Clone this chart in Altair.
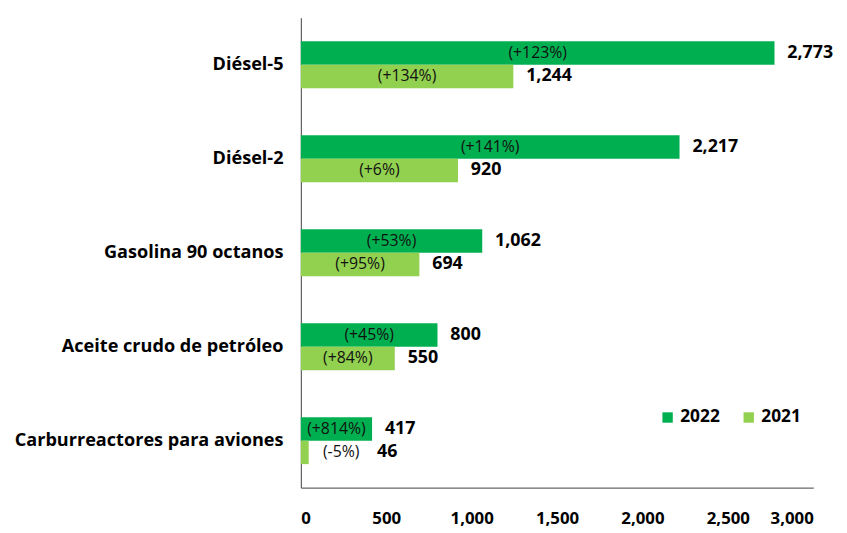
import altair as alt
import pandas as pd

categories = ["Diésel-5", "Diésel-2", "Gasolina 90 octanos",
              "Aceite crudo de petróleo", "Carburreactores para aviones"]
years = ["2022", "2021"]
values_2022 = [2773, 2217, 1062, 800, 417]
values_2021 = [1244, 920, 694, 550, 46]
pct_2022 = ["(+123%)", "(+141%)", "(+53%)", "(+45%)", "(+814%)"]
pct_2021 = ["(+134%)", "(+6%)", "(+95%)", "(+84%)", "(-5%)"]
x_ticks = [0, 500, 1000, 1500, 2000, 2500, 3000]

rows = []
for c, v22, v21, p22, p21 in zip(categories, values_2022, values_2021, pct_2022, pct_2021):
    rows.append({"cat": c, "year": "2022", "value": v22, "pct": p22})
    rows.append({"cat": c, "year": "2021", "value": v21, "pct": p21})
df = pd.DataFrame(rows)

FONT = "Open Sans"

y_axis = alt.Axis(ticks=False, labelFontWeight="bold", labelFontSize=18.3,
                  labelColor="#000000", labelPadding=18, domainColor="#404040",
                  labelFont=FONT, labelLimit=400)
x_axis = alt.Axis(values=x_ticks, format=",.0f", grid=False, ticks=False,
                  labelFontWeight="bold", labelFontSize=17, labelColor="#000000",
                  labelPadding=23, domainColor="#404040", labelFont=FONT)
y_scale = alt.Scale(paddingInner=0.5, paddingOuter=0.25)
yoff = alt.YOffset("year:N", sort=years, scale=alt.Scale(paddingInner=0))
x_scale = alt.Scale(domain=[0, 3000], nice=False)

base = alt.Chart(df)

bars = base.mark_bar().encode(
    y=alt.Y("cat:N", sort=categories, title=None, scale=y_scale, axis=y_axis),
    yOffset=yoff,
    x=alt.X("value:Q", scale=x_scale, title=None, axis=x_axis),
    color=alt.Color("year:N", sort=years, title=None,
                    scale=alt.Scale(domain=years, range=["#00B050", "#92D050"]),
                    legend=alt.Legend(orient="none", legendX=362, legendY=395,
                                      direction="horizontal", symbolType="square",
                                      symbolSize=110, symbolStrokeWidth=0,
                                      labelFontSize=17.5, labelFontWeight="bold",
                                      labelFont=FONT, labelColor="#000000",
                                      columnPadding=20, symbolOpacity=1)),
)

pct_text = base.transform_calculate(
    px="datum.value > 200 ? datum.value / 2 : datum.value + 190"
).mark_text(fontSize=16, font=FONT, color="#111111", align="center", baseline="middle").encode(
    y=alt.Y("cat:N", sort=categories, title=None, scale=y_scale, axis=y_axis),
    yOffset=yoff,
    x=alt.X("px:Q", scale=x_scale, title=None, axis=x_axis),
    text="pct:N",
)

val_text = base.transform_calculate(
    lx="datum.value > 200 ? datum.value : 371"
).mark_text(fontSize=18, font=FONT, fontWeight="bold", color="#000000",
            align="left", baseline="middle", dx=13).encode(
    y=alt.Y("cat:N", sort=categories, title=None, scale=y_scale, axis=y_axis),
    yOffset=yoff,
    x=alt.X("lx:Q", scale=x_scale, title=None, axis=x_axis),
    text=alt.Text("value:Q", format=",.0f"),
)

chart = alt.layer(bars, pct_text, val_text).properties(
    width=518, height=475,
    padding={"left": 6, "top": 7, "right": 5, "bottom": 0},
).configure(
    font=FONT,
    view=alt.ViewConfig(stroke="transparent", strokeWidth=0),
)

chart.save("out.html", embed_options={"renderer": "svg", "actions": False})
